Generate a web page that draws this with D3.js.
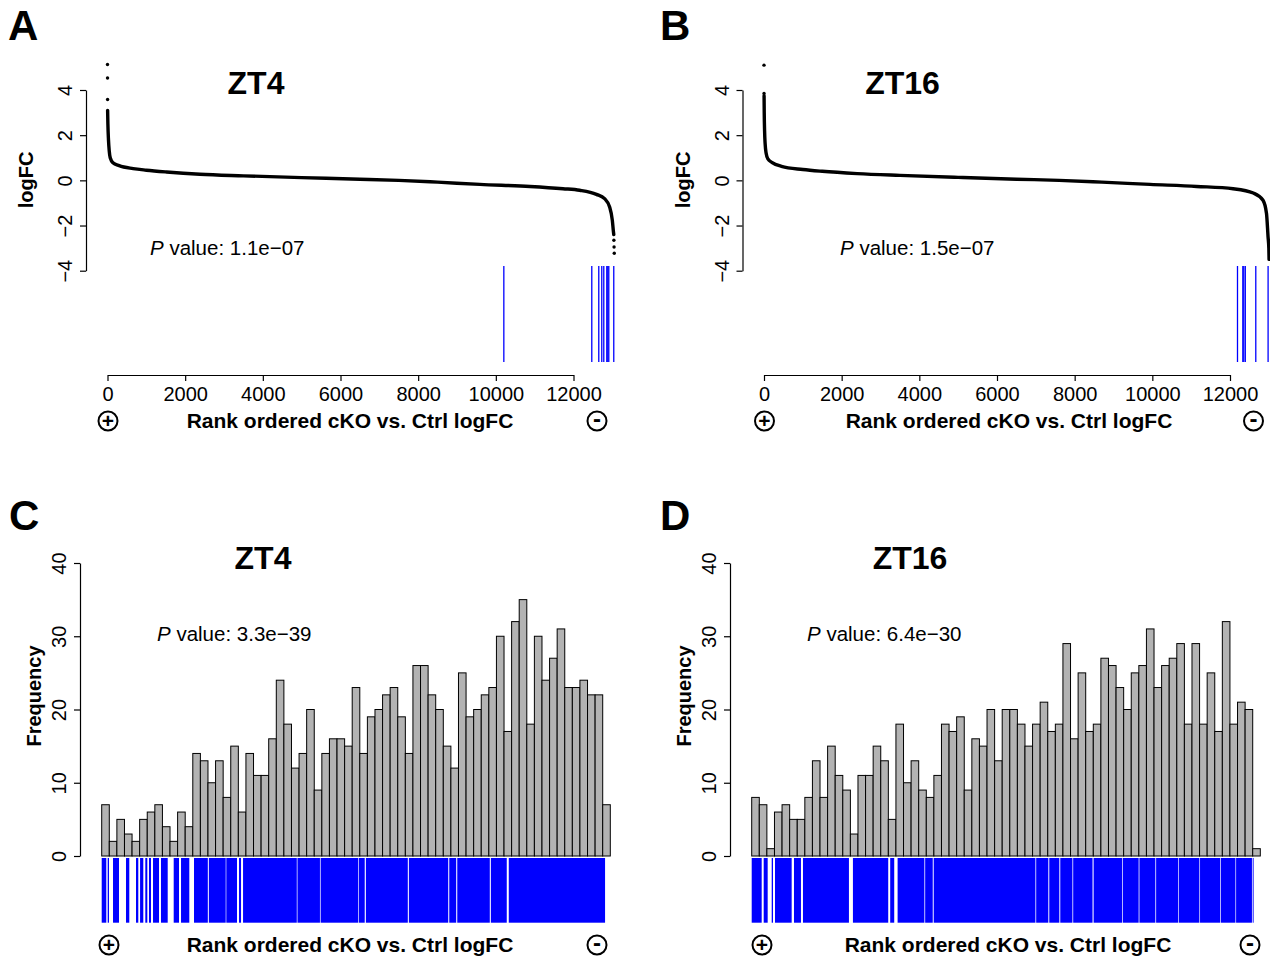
<!DOCTYPE html>
<html>
<head>
<meta charset="utf-8">
<script src="https://cdn.jsdelivr.net/npm/d3@7"></script>
<style>
body { margin: 0; background: #fff; }
svg { display: block; font-family: "Liberation Sans", Arial, Helvetica, sans-serif; }
</style>
</head>
<body>
<svg id="fig" width="1270" height="958"></svg>
<script>
// ---- data ----
var rankTicks = [ 0, 2000, 4000, 6000, 8000, 10000, 12000 ],
    logFCTicks = [ -4, -2, 0, 2, 4 ],
    freqTicks = [ 0, 10, 20, 30, 40 ],
    binWidth = 200;

// sorted logFC curve, [rank, logFC] knots
var curveZT4 = [
    [ 3, 3.1 ], [ 10, 2.5 ], [ 25, 1.8 ], [ 45, 1.3 ], [ 70, 1.0 ], [ 140, 0.78 ],
    [ 300, 0.65 ], [ 660, 0.52 ], [ 1000, 0.45 ], [ 1520, 0.37 ], [ 2380, 0.27 ],
    [ 3500, 0.2 ], [ 5000, 0.12 ], [ 6500, 0.05 ], [ 7500, 0.0 ], [ 8500, -0.08 ],
    [ 9590, -0.18 ], [ 10880, -0.27 ], [ 11730, -0.37 ], [ 12160, -0.44 ],
    [ 12590, -0.62 ], [ 12800, -0.81 ], [ 12930, -1.18 ], [ 13000, -1.77 ],
    [ 13030, -2.3 ], [ 13037, -2.4 ]
];
var dotsZT4 = [ [ 0, 5.13 ], [ 1, 4.53 ], [ 2, 3.58 ], [ 13040, -2.65 ], [ 13045, -2.95 ], [ 13050, -3.23 ] ];
var hitsZT4 = [ 10206, 12471, 12651, 12728, 12780, 12857, 12883, 12909, 13037 ];

var curveZT16 = [
    [ 2, 3.75 ], [ 6, 3.0 ], [ 15, 2.2 ], [ 30, 1.6 ], [ 55, 1.2 ], [ 100, 0.95 ],
    [ 200, 0.8 ], [ 450, 0.62 ], [ 1000, 0.48 ], [ 1500, 0.4 ], [ 2400, 0.3 ],
    [ 3500, 0.22 ], [ 5000, 0.13 ], [ 6500, 0.05 ], [ 7600, 0.0 ], [ 8700, -0.08 ],
    [ 9940, -0.18 ], [ 11140, -0.27 ], [ 12080, -0.37 ], [ 12600, -0.56 ],
    [ 12850, -0.88 ], [ 12940, -1.47 ], [ 12980, -2.5 ], [ 13000, -3.0 ], [ 13006, -3.5 ]
];
var dotsZT16 = [ [ 0, 5.1 ], [ 1, 3.85 ] ];
var hitsZT16 = [ 12193, 12330, 12355, 12394, 12664, 12981 ];

// histogram counts per 200-rank bin
var countsZT4 = [
    7, 2, 5, 3, 2, 5, 6, 7, 4, 2, 6, 4, 14, 13, 10, 13, 8, 15, 6, 14, 11, 11, 16, 24,
    18, 12, 14, 20, 9, 14, 16, 16, 15, 23, 14, 19, 20, 22, 23, 19, 14, 26, 26, 22,
    20, 15, 12, 25, 19, 20, 22, 23, 30, 17, 32, 35, 18, 30, 24, 27, 31, 23, 23, 24,
    22, 22, 7
];
var countsZT16 = [
    8, 7, 1, 6, 7, 5, 5, 8, 13, 8, 15, 11, 9, 3, 11, 11, 15, 13, 5, 18, 10, 13, 9, 8,
    11, 18, 17, 19, 9, 16, 15, 20, 13, 20, 20, 18, 15, 18, 21, 17, 18, 29, 16, 25,
    17, 18, 27, 26, 23, 20, 25, 26, 31, 23, 26, 27, 29, 18, 29, 18, 25, 17, 32, 18,
    21, 20, 1
];

// rug: rank intervals that show as solid blue
var rugZT4 = [
    [ 0, 121 ], [ 158, 192 ], [ 298, 456 ], [ 640, 727 ], [ 904, 964 ], [ 1011, 1096 ],
    [ 1149, 1202 ], [ 1246, 1299 ], [ 1352, 1510 ], [ 1562, 1739 ], [ 1897, 2037 ],
    [ 2090, 2308 ], [ 2432, 2796 ], [ 2823, 3267 ], [ 3283, 3565 ], [ 3618, 3671 ],
    [ 3724, 5140 ], [ 5158, 5750 ], [ 5768, 6755 ], [ 6772, 6930 ], [ 6960, 8065 ],
    [ 8093, 9130 ], [ 9157, 9340 ], [ 9368, 10225 ], [ 10253, 10672 ], [ 10725, 13262 ]
];
var rugZT16 = [
    [ 0, 263 ], [ 316, 421 ], [ 527, 561 ], [ 614, 1053 ], [ 1114, 1298 ], [ 1351, 2562 ],
    [ 2667, 3597 ], [ 3649, 3755 ], [ 3844, 4550 ], [ 4570, 4770 ], [ 4795, 7475 ],
    [ 7495, 7815 ], [ 7840, 8105 ], [ 8130, 8450 ], [ 8470, 8980 ], [ 9008, 9760 ],
    [ 9778, 10195 ], [ 10215, 10635 ], [ 10655, 11235 ], [ 11252, 11795 ],
    [ 11812, 12340 ], [ 12358, 12745 ], [ 12762, 13180 ], [ 13200, 13222 ]
];

var svg = d3.select( '#fig' );

// Circled + / - markers flanking the rank axis title
function signMarker( g, cx, cy, sign ) {
    g.append( 'circle' )
        .attr( 'cx', cx ).attr( 'cy', cy ).attr( 'r', 9.5 )
        .attr( 'fill', 'none' ).attr( 'stroke', '#000' ).attr( 'stroke-width', 2 );
    g.append( 'text' )
        .attr( 'x', cx ).attr( 'y', cy + ( sign === '+' ? 7 : 6 ) )
        .attr( 'text-anchor', 'middle' )
        .attr( 'font-size', sign === '+' ? 21 : 24 ).attr( 'font-weight', 'bold' )
        .text( sign );
}

function styleAxis( ax ) {
    ax.select( '.domain' ).attr( 'stroke-width', 1.2 );
    ax.selectAll( '.tick line' ).attr( 'stroke-width', 1.2 );
    ax.selectAll( 'text' ).attr( 'font-size', 20 ).attr( 'font-family', null ).attr( 'fill', '#000' );
}

function rotatedYLabels( ax ) {
    ax.selectAll( '.tick text' )
        .attr( 'x', null ).attr( 'dy', null )
        .attr( 'text-anchor', 'middle' )
        .attr( 'transform', 'translate(-14,0) rotate(-90)' );
}

function rankPanel( o ) {
    var g = svg.append( 'g' ).attr( 'transform', 'translate(' + o.dx + ',0)' );

    var x = d3.scaleLinear().domain( [ 0, 12000 ] ).range( [ 107.5, 573.5 ] ),
        y = d3.scaleLinear().domain( [ -4, 4 ] ).range( [ 270.7, 90 ] );

    var ay = g.append( 'g' ).attr( 'transform', 'translate(86,0)' )
        .call( d3.axisLeft( y ).tickValues( logFCTicks ).tickSize( 6 ).tickSizeOuter( 0 )
            .tickFormat( function( d ) { return d < 0 ? '\u2212' + ( -d ) : d; } ) );
    styleAxis( ay );
    rotatedYLabels( ay );

    var ax = g.append( 'g' ).attr( 'transform', 'translate(0,375)' )
        .call( d3.axisBottom( x ).tickValues( rankTicks ).tickSize( 6 ).tickSizeOuter( 0 ).tickFormat( d3.format( 'd' ) ) );
    styleAxis( ax );
    ax.selectAll( '.tick text' ).attr( 'y', 26 ).attr( 'dy', null );

    g.append( 'path' )
        .datum( o.curve )
        .attr( 'fill', 'none' ).attr( 'stroke', '#000' )
        .attr( 'stroke-width', 3.4 ).attr( 'stroke-linecap', 'round' )
        .attr( 'd', d3.line().x( function( d ) { return x( d[ 0 ] ); } ).y( function( d ) { return y( d[ 1 ] ); } ).curve( d3.curveMonotoneX ) );

    g.selectAll( 'circle.dot' ).data( o.dots ).enter().append( 'circle' )
        .attr( 'class', 'dot' )
        .attr( 'cx', function( d ) { return x( d[ 0 ] ); } )
        .attr( 'cy', function( d ) { return y( d[ 1 ] ); } )
        .attr( 'r', 1.7 ).attr( 'fill', '#000' );

    g.selectAll( 'line.hit' ).data( o.hits ).enter().append( 'line' )
        .attr( 'class', 'hit' )
        .attr( 'x1', function( d ) { return x( d ); } ).attr( 'x2', function( d ) { return x( d ); } )
        .attr( 'y1', 266 ).attr( 'y2', 362 )
        .attr( 'stroke', '#0000ff' ).attr( 'stroke-width', 1.3 );

    g.append( 'text' )
        .attr( 'transform', 'translate(33,180) rotate(-90)' )
        .attr( 'text-anchor', 'middle' ).attr( 'font-size', 20 ).attr( 'font-weight', 'bold' )
        .text( 'logFC' );

    g.append( 'text' )
        .attr( 'x', o.titleX ).attr( 'y', 94 )
        .attr( 'text-anchor', 'middle' ).attr( 'font-size', 32 ).attr( 'font-weight', 'bold' )
        .text( o.title );

    var pv = g.append( 'text' ).attr( 'x', o.pX ).attr( 'y', 255 ).attr( 'font-size', 20.5 );
    pv.append( 'tspan' ).attr( 'font-style', 'italic' ).text( 'P' );
    pv.append( 'tspan' ).text( ' value: ' + o.p );

    g.append( 'text' )
        .attr( 'x', 350 + o.shift ).attr( 'y', 428 )
        .attr( 'text-anchor', 'middle' ).attr( 'font-size', 21 ).attr( 'font-weight', 'bold' )
        .text( 'Rank ordered cKO vs. Ctrl logFC' );
    signMarker( g, 108 + o.markShift, 421, '+' );
    signMarker( g, 597 + o.markShift, 421, '-' );

    svg.append( 'text' )
        .attr( 'x', o.dx + o.letterX ).attr( 'y', 40 )
        .attr( 'font-size', 42 ).attr( 'font-weight', 'bold' )
        .text( o.letter );
}

function histPanel( o ) {
    var g = svg.append( 'g' ).attr( 'transform', 'translate(' + o.dx + ',0)' );

    var x = d3.scaleLinear().domain( [ 0, o.counts.length * binWidth ] ).range( [ 101.7, 610.3 ] ),
        y = d3.scaleLinear().domain( [ 0, 40 ] ).range( [ 856, 563 ] );

    g.selectAll( 'rect.rug' ).data( o.rug ).enter().append( 'rect' )
        .attr( 'class', 'rug' )
        .attr( 'x', function( d ) { return x( d[ 0 ] ); } )
        .attr( 'width', function( d ) { return Math.max( x( d[ 1 ] ) - x( d[ 0 ] ), 0.9 ); } )
        .attr( 'y', 858 ).attr( 'height', 64.7 )
        .attr( 'fill', '#0000ff' );

    g.selectAll( 'rect.bar' ).data( o.counts ).enter().append( 'rect' )
        .attr( 'class', 'bar' )
        .attr( 'x', function( d, i ) { return x( i * binWidth ); } )
        .attr( 'width', x( binWidth ) - x( 0 ) )
        .attr( 'y', function( d ) { return y( d ); } )
        .attr( 'height', function( d ) { return y( 0 ) - y( d ); } )
        .attr( 'fill', '#b3b3b3' ).attr( 'stroke', '#000' ).attr( 'stroke-width', 1 );

    var ay = g.append( 'g' ).attr( 'transform', 'translate(80,0)' )
        .call( d3.axisLeft( y ).tickValues( freqTicks ).tickSize( 6 ).tickSizeOuter( 0 ) );
    styleAxis( ay );
    rotatedYLabels( ay );

    g.append( 'text' )
        .attr( 'transform', 'translate(41,696) rotate(-90)' )
        .attr( 'text-anchor', 'middle' ).attr( 'font-size', 20 ).attr( 'font-weight', 'bold' )
        .text( 'Frequency' );

    g.append( 'text' )
        .attr( 'x', o.titleX ).attr( 'y', 569 )
        .attr( 'text-anchor', 'middle' ).attr( 'font-size', 32 ).attr( 'font-weight', 'bold' )
        .text( o.title );

    var pv = g.append( 'text' ).attr( 'x', o.pX ).attr( 'y', 641 ).attr( 'font-size', 20.5 );
    pv.append( 'tspan' ).attr( 'font-style', 'italic' ).text( 'P' );
    pv.append( 'tspan' ).text( ' value: ' + o.p );

    g.append( 'text' )
        .attr( 'x', 350 + o.shift ).attr( 'y', 952 )
        .attr( 'text-anchor', 'middle' ).attr( 'font-size', 21 ).attr( 'font-weight', 'bold' )
        .text( 'Rank ordered cKO vs. Ctrl logFC' );
    signMarker( g, 109 + o.markShift, 945, '+' );
    signMarker( g, 597 + o.markShift, 945, '-' );

    svg.append( 'text' )
        .attr( 'x', o.dx + o.letterX ).attr( 'y', 530 )
        .attr( 'font-size', 42 ).attr( 'font-weight', 'bold' )
        .text( o.letter );
}

rankPanel( { dx: 0, shift: 0, markShift: 0, letter: 'A', letterX: 8, title: 'ZT4', titleX: 256, pX: 150, p: '1.1e\u221207',
    curve: curveZT4, dots: dotsZT4, hits: hitsZT4 } );
rankPanel( { dx: 656.5, shift: 2.5, markShift: 0, letter: 'B', letterX: 3.5, title: 'ZT16', titleX: 246, pX: 183.5, p: '1.5e\u221207',
    curve: curveZT16, dots: dotsZT16, hits: hitsZT16 } );
histPanel( { dx: 0, shift: 0, markShift: 0, letter: 'C', letterX: 9, title: 'ZT4', titleX: 263, pX: 157, p: '3.3e\u221239',
    counts: countsZT4, rug: rugZT4 } );
histPanel( { dx: 650, shift: 8, markShift: 3, letter: 'D', letterX: 10, title: 'ZT16', titleX: 260, pX: 157, p: '6.4e\u221230',
    counts: countsZT16, rug: rugZT16 } );
</script>
</body>
</html>
